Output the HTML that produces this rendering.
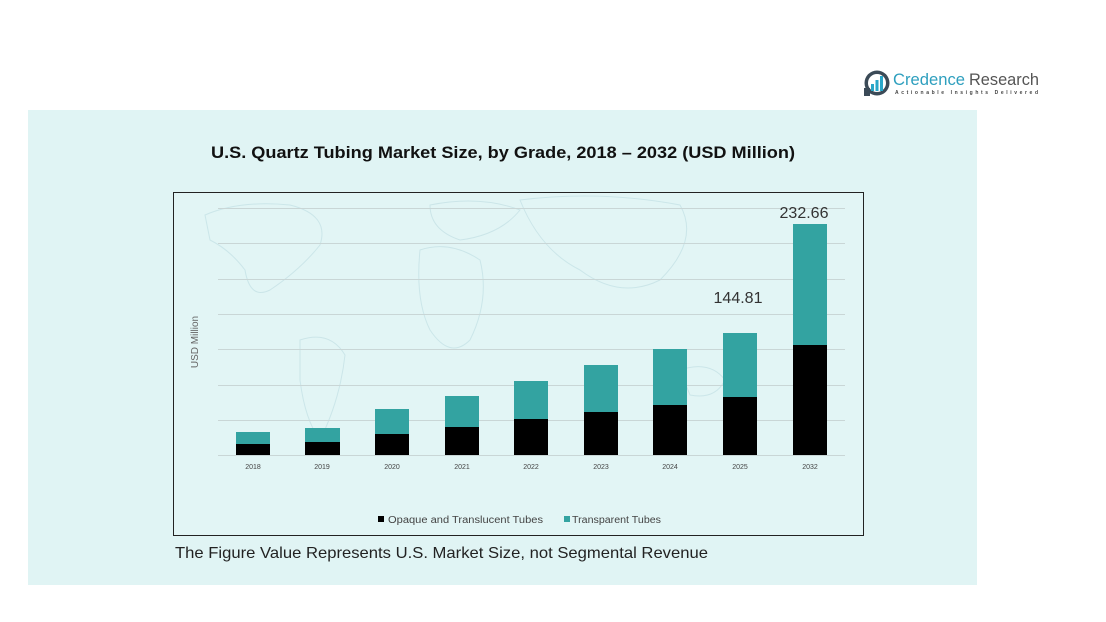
<!DOCTYPE html>
<html><head><meta charset="utf-8"><style>
html,body{margin:0;padding:0;background:#fff;}
svg{display:block;}
text{font-family:"Liberation Sans",sans-serif;}
</style></head><body>
<svg width="1106" height="622" viewBox="0 0 1106 622" xmlns="http://www.w3.org/2000/svg">
<rect x="0" y="0" width="1106" height="622" fill="#ffffff"/>
<!-- logo -->
<circle cx="877" cy="83" r="12.5" fill="#3b4a57"/>
<circle cx="877" cy="83" r="9" fill="#ffffff"/>
<rect x="871" y="84" width="3" height="7" fill="#2aa7c9"/>
<rect x="875.5" y="80" width="3" height="11" fill="#2aa7c9"/>
<rect x="880" y="76" width="3" height="15" fill="#2aa7c9"/>
<rect x="864" y="88" width="6" height="8" fill="#3b4a57"/>
<text x="893" y="85" font-size="17" fill="#2e9fbe" textLength="72" lengthAdjust="spacingAndGlyphs">Credence</text>
<text x="969" y="85" font-size="17" fill="#555" textLength="70" lengthAdjust="spacingAndGlyphs">Research</text>
<text x="895" y="94" font-size="5" font-weight="bold" fill="#444" textLength="143" lengthAdjust="spacing">Actionable Insights Delivered</text>
<!-- panel -->
<rect x="28" y="110" width="949" height="475" fill="#e0f4f4"/>
<!-- title -->
<text x="211" y="158" font-size="17" font-weight="bold" fill="#111" textLength="584" lengthAdjust="spacingAndGlyphs">U.S. Quartz Tubing Market Size, by Grade, 2018 – 2032 (USD Million)</text>
<!-- plot box -->
<rect x="173.5" y="192.5" width="690" height="343" fill="#e2f5f5" stroke="#222" stroke-width="1"/>
<!-- faint map hints -->
<g fill="none" stroke="#c6e2e6" stroke-width="1" opacity="0.8">
<path d="M205 215 Q240 200 290 205 Q330 215 320 245 Q300 270 270 290 Q250 300 245 270 Q230 250 210 240 Z"/>
<path d="M300 340 Q330 330 345 355 Q340 400 320 440 Q305 420 300 380 Z"/>
<path d="M420 250 Q450 240 480 260 Q490 300 470 340 Q450 360 430 330 Q415 300 420 250 Z"/>
<path d="M430 205 Q480 195 520 210 Q500 235 460 240 Q430 230 430 205 Z"/>
<path d="M520 200 Q600 190 680 205 Q700 240 660 280 Q620 300 580 270 Q540 250 520 200 Z"/>
<path d="M680 370 Q710 360 725 380 Q715 400 690 395 Z"/>
</g>
<!-- gridlines -->
<g stroke="#c9d6d6" stroke-width="1">
<line x1="218" y1="208.5" x2="845" y2="208.5"/>
<line x1="218" y1="243.5" x2="845" y2="243.5"/>
<line x1="218" y1="279.5" x2="845" y2="279.5"/>
<line x1="218" y1="314.5" x2="845" y2="314.5"/>
<line x1="218" y1="349.5" x2="845" y2="349.5"/>
<line x1="218" y1="385.5" x2="845" y2="385.5"/>
<line x1="218" y1="420.5" x2="845" y2="420.5"/>
<line x1="218" y1="455.5" x2="845" y2="455.5"/>
</g>
<!-- bars -->
<g>
<rect x="236" y="432" width="34" height="12" fill="#33a3a1"/><rect x="236" y="444" width="34" height="11" fill="#000"/>
<rect x="305" y="428" width="35" height="14" fill="#33a3a1"/><rect x="305" y="442" width="35" height="13" fill="#000"/>
<rect x="375" y="409" width="34" height="25" fill="#33a3a1"/><rect x="375" y="434" width="34" height="21" fill="#000"/>
<rect x="445" y="396" width="34" height="31" fill="#33a3a1"/><rect x="445" y="427" width="34" height="28" fill="#000"/>
<rect x="514" y="381" width="34" height="38" fill="#33a3a1"/><rect x="514" y="419" width="34" height="36" fill="#000"/>
<rect x="584" y="365" width="34" height="47" fill="#33a3a1"/><rect x="584" y="412" width="34" height="43" fill="#000"/>
<rect x="653" y="349" width="34" height="56" fill="#33a3a1"/><rect x="653" y="405" width="34" height="50" fill="#000"/>
<rect x="723" y="333" width="34" height="64" fill="#33a3a1"/><rect x="723" y="397" width="34" height="58" fill="#000"/>
<rect x="793" y="224" width="34" height="121" fill="#33a3a1"/><rect x="793" y="345" width="34" height="110" fill="#000"/>
</g>
<!-- value labels -->
<text x="804" y="218" font-size="16" fill="#333" text-anchor="middle">232.66</text>
<text x="738" y="303" font-size="16" fill="#333" text-anchor="middle">144.81</text>
<!-- x labels -->
<g font-size="7" fill="#444" text-anchor="middle">
<text x="253" y="469">2018</text>
<text x="322" y="469">2019</text>
<text x="392" y="469">2020</text>
<text x="462" y="469">2021</text>
<text x="531" y="469">2022</text>
<text x="601" y="469">2023</text>
<text x="670" y="469">2024</text>
<text x="740" y="469">2025</text>
<text x="810" y="469">2032</text>
</g>
<!-- y label -->
<text x="0" y="0" font-size="10" fill="#666" text-anchor="middle" transform="translate(198,342) rotate(-90)">USD Million</text>
<!-- legend -->
<rect x="378" y="516" width="6" height="6" fill="#000"/>
<text x="388" y="523" font-size="10" fill="#444" textLength="155" lengthAdjust="spacingAndGlyphs">Opaque and Translucent Tubes</text>
<rect x="564" y="516" width="6" height="6" fill="#33a3a1"/>
<text x="572" y="523" font-size="10" fill="#444" textLength="89" lengthAdjust="spacingAndGlyphs">Transparent Tubes</text>
<!-- footer -->
<text x="175" y="558" font-size="16" fill="#222" textLength="533" lengthAdjust="spacingAndGlyphs">The Figure Value Represents U.S. Market Size, not Segmental Revenue</text>
</svg>
</body></html>
